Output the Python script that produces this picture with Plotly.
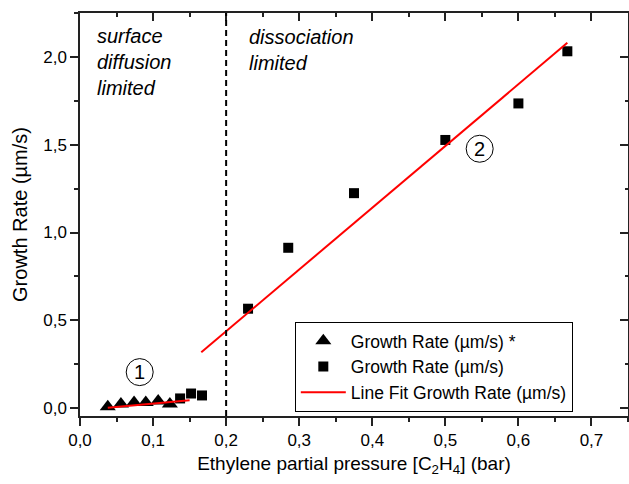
import plotly.graph_objects as go

# data
tri_x = [0.038, 0.056, 0.074, 0.090, 0.107, 0.123]
tri_y = [0.008, 0.023, 0.032, 0.032, 0.041, 0.023]
sq_x = [0.137, 0.152, 0.167, 0.230, 0.285, 0.375, 0.500, 0.600, 0.667]
sq_y = [0.055, 0.083, 0.072, 0.566, 0.913, 1.224, 1.527, 1.735, 2.032]
fit1_x = [0.038, 0.150]
fit1_y = [0.002, 0.045]
fit2_x = [0.166, 0.667]
fit2_y = [0.318, 2.080]
boundary_x = 0.2
x_range = [0, 0.75]
y_range = [-0.045, 2.25]

FONT = "Liberation Sans, Arial, sans-serif"
AX = "#222222"

fig = go.Figure()
fig.add_trace(go.Scatter(x=tri_x, y=tri_y, mode="markers", name="Growth Rate (µm/s) *",
                         marker=dict(symbol="triangle-up", size=14, color="black")))
fig.add_trace(go.Scatter(x=sq_x, y=sq_y, mode="markers", name="Growth Rate (µm/s)",
                         marker=dict(symbol="square", size=10, color="black")))
fig.add_trace(go.Scatter(x=fit1_x, y=fit1_y, mode="lines", name="Line Fit Growth Rate (µm/s)",
                         line=dict(color="red", width=2)))
fig.add_trace(go.Scatter(x=fit2_x, y=fit2_y, mode="lines", showlegend=False,
                         line=dict(color="red", width=2)))

# dummy trace for mirrored axes (top/right with inward ticks)
fig.add_trace(go.Scatter(x=[None], y=[None], xaxis="x2", yaxis="y2", showlegend=False))

fig.add_shape(type="line", xref="x", yref="paper", x0=boundary_x, x1=boundary_x, y0=0, y1=1,
              line=dict(color="black", width=2, dash="6px,4px"))

# circled numbers
for cx, cy, lab in [(0.0817, 0.205, "1"), (0.547, 1.477, "2")]:
    fig.add_shape(type="circle", xref="x", yref="y", xsizemode="pixel", ysizemode="pixel",
                  xanchor=cx, yanchor=cy, x0=-13.5, x1=13.5, y0=-13.5, y1=13.5,
                  line=dict(color="black", width=1))
    fig.add_annotation(x=cx, y=cy, text=lab, showarrow=False, xanchor="center", yanchor="middle",
                       font=dict(family=FONT, size=20, color="black"))

fig.add_annotation(x=0.0204, y=1.97, text="<i>surface<br>diffusion<br>limited</i>", showarrow=False,
                   xanchor="left", yanchor="middle", align="left",
                   font=dict(family=FONT, size=20, color="black"))
fig.add_annotation(x=0.2288, y=2.04, text="<i>dissociation<br>limited</i>", showarrow=False,
                   xanchor="left", yanchor="middle", align="left",
                   font=dict(family=FONT, size=20, color="black"))

axis_common = dict(showgrid=False, zeroline=False, showline=True, linecolor=AX, linewidth=1.5,
                   tickcolor=AX, tickwidth=1.5, ticklen=8, automargin=False,
                   tickfont=dict(family=FONT, size=17, color="black"))

fig.update_layout(
    width=629, height=484,
    margin=dict(l=80, r=1, t=13, b=68),
    paper_bgcolor="white", plot_bgcolor="white",
    separators=",.",
    showlegend=True,
    xaxis=dict(range=x_range, dtick=0.1, tick0=0, tickformat=".1f", ticks="outside",
               minor=dict(dtick=0.05, tick0=0, ticks="outside", ticklen=4, tickcolor=AX, tickwidth=1.5),
               title=dict(text="Ethylene partial pressure [C<sub>2</sub>H<sub>4</sub>] (bar)",
                          font=dict(family=FONT, size=19, color="black"), standoff=8),
               **axis_common),
    yaxis=dict(range=y_range, dtick=0.5, tick0=0, tickformat=".1f", ticks="outside",
               minor=dict(dtick=0.25, tick0=0, ticks="outside", ticklen=4, tickcolor=AX, tickwidth=1.5),
               title=dict(text="Growth Rate (µm/s)", font=dict(family=FONT, size=20, color="black"),
                          standoff=10),
               **axis_common),
    xaxis2=dict(range=x_range, overlaying="x", side="top", dtick=0.1, tick0=0, ticks="inside",
                showticklabels=False,
                minor=dict(dtick=0.05, tick0=0, ticks="inside", ticklen=4, tickcolor=AX, tickwidth=1.5),
                **axis_common),
    yaxis2=dict(range=y_range, overlaying="y", side="right", dtick=0.5, tick0=0, ticks="inside",
                showticklabels=False,
                minor=dict(dtick=0.25, tick0=0, ticks="inside", ticklen=3, tickcolor=AX, tickwidth=1.5),
                **axis_common),
    legend=dict(x=0.392, y=0.1216, xanchor="left", yanchor="middle", bgcolor="white",
                bordercolor="black", borderwidth=1, tracegroupgap=0, itemwidth=45,
                font=dict(family=FONT, size=17.5, color="black")),
)

fig.write_html("out.html", config={"displayModeBar": False},
               post_script="document.body.style.margin='0px';")
